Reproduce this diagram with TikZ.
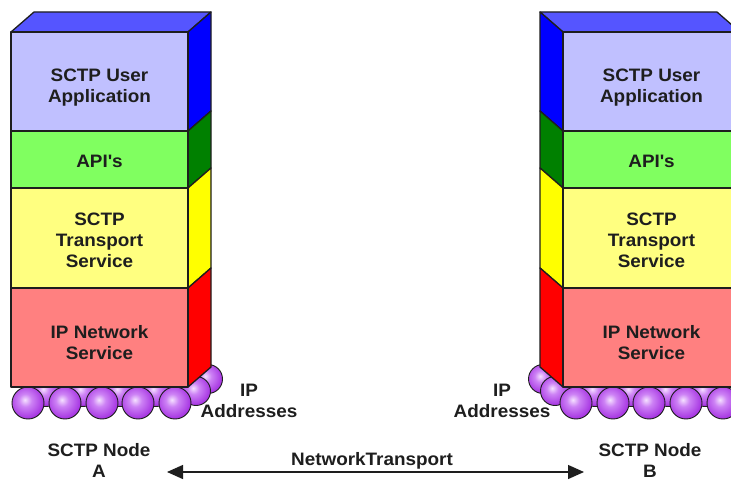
\documentclass[tikz,border=0pt]{standalone}
\usepackage{fontspec}
\setmainfont{Liberation Sans}[FakeStretch=1.05]
\usetikzlibrary{arrows.meta}

% layer colours: front face / side face
\definecolor{appfront}{RGB}{192,192,255}
\definecolor{apptop}{RGB}{85,85,255}
\definecolor{appside}{RGB}{0,0,255}
\definecolor{apifront}{RGB}{128,255,96}
\definecolor{apiside}{RGB}{0,128,0}
\definecolor{trfront}{RGB}{255,255,128}
\definecolor{trside}{RGB}{255,255,0}
\definecolor{ipfront}{RGB}{255,128,128}
\definecolor{ipside}{RGB}{255,0,0}
\definecolor{beadhi}{RGB}{245,225,255}
\definecolor{beadlt}{RGB}{205,130,245}
\definecolor{beadc}{RGB}{165,50,225}
\definecolor{beaddk}{RGB}{115,20,165}
\definecolor{ink}{RGB}{30,30,30}

% glossy bead: light spot slightly up and left of the centre
\pgfdeclareradialshading{beadshade}{\pgfpoint{-5bp}{5bp}}{%
  color(0bp)=(beadhi); color(10bp)=(beadlt); color(28bp)=(beadc);
  color(44bp)=(beaddk); color(80bp)=(beaddk)}

\tikzset{
  outline/.style={draw=ink, line width=1.3pt, line join=round},
  face/.style={outline, inner sep=0pt, minimum width=177pt},
  txt/.style={font=\bfseries\fontsize{18}{21}\selectfont, align=center,
    text=ink, inner sep=0pt, anchor=base},
  bead/.style={circle, inner sep=0pt, minimum size=#1, draw=ink,
    line width=0.9pt, shading=beadshade},
  bead/.default=32pt,
  % one protocol stack standing on its ring of IP addresses
  stackpic/.pic={
    % rear beads, mostly hidden behind the stack
    \foreach \x [count=\i] in {46,83,120,156}
      \node[bead=29pt] (-rb\i) at (\x,392) {};
    % beads along the side
    \node[bead=29pt] (-sb1) at (208,379) {};
    \node[bead=29pt] (-sb2) at (196,391) {};
    % front beads
    \foreach \x [count=\i] in {28,65,102,138,175}
      \node[bead] (-fb\i) at (\x,403) {};
    % top and side faces
    \path[outline, fill=apptop]  (11,32) -- (34,12) -- (211,12) -- (188,32) -- cycle;
    \path[outline, fill=appside] (188,32) -- (211,12) -- (211,111) -- (188,131) -- cycle;
    \path[outline, fill=apiside] (188,131) -- (211,111) -- (211,168) -- (188,188) -- cycle;
    \path[outline, fill=trside]  (188,188) -- (211,168) -- (211,268) -- (188,288) -- cycle;
    \path[outline, fill=ipside]  (188,288) -- (211,268) -- (211,367) -- (188,387) -- cycle;
    % front faces
    \node[face, fill=appfront, minimum height=99pt]  (-ua)  at (99.5,81.5) {};
    \node[face, fill=apifront, minimum height=57pt]  (-api) at (99.5,159.5) {};
    \node[face, fill=trfront,  minimum height=100pt] (-tr)  at (99.5,238) {};
    \node[face, fill=ipfront,  minimum height=99pt]  (-ip)  at (99.5,337.5) {};
    % layer names (base = baseline of the last line)
    \node[txt] (-uat)  at (99.5,103) {SCTP User\\Application};
    \node[txt] (-apit) at (99.5,168) {API\textquotesingle s};
    \node[txt] (-trt)  at (99.5,267) {SCTP\\Transport\\Service};
    \node[txt] (-ipt)  at (99.5,359) {IP Network\\Service};
    \node[txt] (-addr) at (249,417)  {IP\\Addresses};
  }
}

\begin{document}
\begin{tikzpicture}[x=1pt, y=-1pt]
  \clip (0,0) rectangle (731,481);
  \fill[white] (0,0) rectangle (731,481);

  \pic (A) at (0,0) {stackpic};
  \pic[xscale=-1] (B) at (751,0) {stackpic};

  \node[txt] (nodeA) at (99,477)  {SCTP Node\\A};
  \node[txt] (nodeB) at (650,477) {SCTP Node\\B};

  \coordinate (netL) at (167,472);
  \coordinate (netR) at (584,472);
  \draw[ink, line width=1.3pt,
        {Triangle[length=16pt,width=14pt]}-{Triangle[length=16pt,width=14pt]}]
    (netL) -- (netR);
  \node[txt] (net) at (372,465) {NetworkTransport};
\end{tikzpicture}
\end{document}
